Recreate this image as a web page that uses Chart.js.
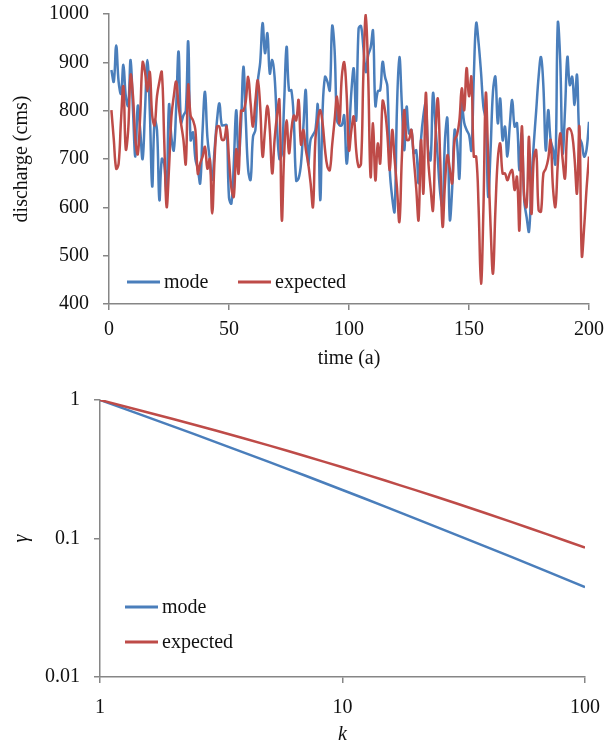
<!DOCTYPE html>
<html>
<head>
<meta charset="utf-8">
<script src="https://cdn.jsdelivr.net/npm/chart.js@4"></script>
<style>
  html, body { margin: 0; padding: 0; background: #fff; }
  .wrap { position: absolute; left: 0; width: 608px; height: 372px; }
  #top { top: 0; }
  #bottom { top: 372px; }
</style>
</head>
<body>
<div class="wrap" id="top"><canvas id="dischargeChart"></canvas></div>
<div class="wrap" id="bottom"><canvas id="gammaChart"></canvas></div>
<script>
// time steps 1..200
const times = Array.from({ length: 200 }, (_, i) => i + 1);

const modeDischarge = [
  884, 860, 935, 860, 835, 895, 830, 810, 905, 800,
  705, 810, 760, 700, 800, 905, 800, 643, 780, 760,
  615, 700, 690, 630, 812, 745, 718, 808, 922, 775,
  790, 800, 943, 739, 755, 700, 680, 650, 760, 839,
  745, 700, 657, 720, 780, 815, 770, 770, 770, 620,
  608, 690, 801, 705, 770, 891, 780, 677, 657, 746,
  760, 860, 900, 981, 919, 960, 877, 905, 870, 770,
  700, 710, 820, 932, 842, 842, 780, 655, 660, 690,
  767, 842, 690, 740, 750, 760, 812, 615, 800, 870,
  860, 842, 975, 925, 780, 770, 770, 790, 691, 750,
  840, 887, 780, 970, 975, 930, 880, 915, 930, 965,
  810, 840, 842, 901, 870, 850, 677, 620, 591, 808,
  911, 815, 718, 808, 753, 760, 712, 718, 650, 740,
  790, 815, 718, 698, 836, 770, 700, 630, 601, 740,
  784, 575, 640, 760, 735, 660, 815, 775, 760, 750,
  718, 870, 981, 940, 880, 808, 780, 622, 720, 840,
  870, 774, 825, 739, 767, 705, 770, 822, 767, 774,
  677, 753, 615, 580, 550, 650, 732, 800, 870, 911,
  850, 718, 801, 740, 720, 690, 981, 905, 712, 800,
  911, 853, 870, 812, 874, 746, 732, 705, 720, 777
];

const expectedDischarge = [
  801, 740, 680, 690, 780, 850, 720, 760, 874, 830,
  740, 710, 790, 900, 880, 840, 880, 790, 770, 830,
  860, 880, 740, 601, 680, 787, 830, 860, 810, 774,
  740, 690, 853, 790, 780, 760, 670, 691, 705, 725,
  680, 700, 587, 700, 767, 767, 740, 740, 767, 700,
  640, 622, 720, 670, 800, 800, 820, 870, 815, 767,
  820, 863, 808, 705, 760, 810, 760, 670, 740, 790,
  822, 574, 712, 780, 712, 760, 790, 780, 822, 730,
  760, 720, 691, 650, 601, 740, 780, 801, 774, 720,
  684, 677, 730, 780, 829, 774, 870, 900, 836, 718,
  760, 788, 718, 684, 690, 877, 998, 870, 663, 774,
  656, 732, 691, 820, 800, 750, 677, 760, 700, 640,
  570, 700, 801, 740, 740, 760, 700, 640, 574, 739,
  629, 836, 700, 640, 594, 740, 825, 700, 560, 650,
  708, 680, 650, 739, 750, 780, 846, 801, 888, 830,
  870, 705, 705, 600, 442, 594, 836, 700, 560, 463,
  594, 700, 732, 670, 670, 656, 670, 677, 636, 663,
  553, 767, 622, 601, 746, 587, 700, 718, 594, 591,
  670, 680, 700, 739, 640, 601, 690, 753, 700, 660,
  760, 763, 750, 700, 629, 767, 500, 560, 640, 705
];

const dischargeTicks = [400, 500, 600, 700, 800, 900, 1000];
const timeTicks = [0, 50, 100, 150, 200];

const lagK = [1, 2, 3, 5, 7, 10, 15, 20, 30, 50, 70, 100];
const modeGamma = [1, 0.645, 0.497, 0.356, 0.285, 0.224, 0.170, 0.139, 0.105, 0.0733, 0.0576, 0.0445];
const expectedGamma = [1, 0.730, 0.602, 0.468, 0.394, 0.327, 0.262, 0.2235, 0.1774, 0.1313, 0.107, 0.0859];
const gammaTicks = [0.01, 0.1, 1];
const gammaTickLabels = ['0.01', '0.1', '1'];
const kTicks = [1, 10, 100];

const blue = '#4a7ebb';
const red = '#be4b48';
const axisGray = '#868686';
const font = { family: '"Liberation Serif", "Times New Roman", serif', size: 20 };
const italicFont = { family: '"Liberation Serif", "Times New Roman", serif', size: 20, style: 'italic' };

const insideLegend = {
  id: 'insideLegend',
  afterDatasetsDraw(chart, args, opts) {
    const ctx = chart.ctx;
    ctx.save();
    ctx.font = '20px "Liberation Serif", serif';
    ctx.textBaseline = 'middle';
    chart.data.datasets.forEach((ds, i) => {
      const spot = opts.items[i];
      ctx.strokeStyle = ds.borderColor;
      ctx.lineWidth = 3;
      ctx.beginPath();
      ctx.moveTo(spot.x, spot.y);
      ctx.lineTo(spot.x + opts.lineLength, spot.y);
      ctx.stroke();
      ctx.fillStyle = '#111';
      ctx.fillText(ds.label, spot.x + opts.lineLength + opts.gap, spot.y + 1);
    });
    ctx.restore();
  }
};

function axisStyle(extra) {
  return Object.assign({
    grid: { drawOnChartArea: false, color: axisGray, tickLength: 6, lineWidth: 1.5 },
    border: { color: axisGray, width: 1.5 }
  }, extra);
}

// pin the axis box size so the plot area lands where the original one is
function pinX(height) {
  return s => { s.height = height; s.paddingLeft = 0; s.paddingRight = 0; };
}
function pinY(width) {
  return s => { s.width = width; s.paddingTop = 0; s.paddingBottom = 0; };
}

new Chart(document.getElementById('dischargeChart'), {
  type: 'line',
  data: {
    datasets: [
      {
        label: 'mode',
        data: times.map((t, i) => ({ x: t, y: modeDischarge[i] })),
        borderColor: blue,
        borderWidth: 2.5,
        pointRadius: 0,
        tension: 0.4,
        order: 2
      },
      {
        label: 'expected',
        data: times.map((t, i) => ({ x: t, y: expectedDischarge[i] })),
        borderColor: red,
        borderWidth: 2.5,
        pointRadius: 0,
        tension: 0.4,
        order: 1
      }
    ]
  },
  options: {
    responsive: true,
    maintainAspectRatio: false,
    animation: false,
    layout: { padding: { top: 14, right: 19, left: 0, bottom: 0 } },
    plugins: {
      legend: { display: false },
      tooltip: { enabled: false },
      insideLegend: {
        lineLength: 33, gap: 4,
        items: [{ x: 127, y: 282 }, { x: 238, y: 282 }]
      }
    },
    scales: {
      x: axisStyle({
        type: 'linear', min: 0, max: 200,
        afterBuildTicks: s => { s.ticks = timeTicks.map(v => ({ value: v })); },
        afterFit: pinX(68),
        ticks: { color: '#111', font, padding: 8, maxRotation: 0, callback: v => String(v) },
        title: { display: true, text: 'time (a)', color: '#111', font, padding: { top: 0, bottom: 1 } }
      }),
      y: axisStyle({
        min: 400, max: 1000,
        afterBuildTicks: s => { s.ticks = dischargeTicks.map(v => ({ value: v })); },
        afterFit: pinY(109),
        ticks: { color: '#111', font, padding: 14, callback: v => String(v) },
        title: { display: true, text: 'discharge (cms)', color: '#111', font, padding: { top: 10, bottom: 0 } }
      })
    }
  },
  plugins: [insideLegend]
});

new Chart(document.getElementById('gammaChart'), {
  type: 'line',
  data: {
    datasets: [
      {
        label: 'mode',
        data: lagK.map((k, i) => ({ x: k, y: modeGamma[i] })),
        borderColor: blue,
        borderWidth: 2.5,
        pointRadius: 0,
        tension: 0.2,
        order: 2
      },
      {
        label: 'expected',
        data: lagK.map((k, i) => ({ x: k, y: expectedGamma[i] })),
        borderColor: red,
        borderWidth: 2.5,
        pointRadius: 0,
        tension: 0.2,
        order: 1
      }
    ]
  },
  options: {
    responsive: true,
    maintainAspectRatio: false,
    animation: false,
    layout: { padding: { top: 28, right: 23, left: 0, bottom: 0 } },
    plugins: {
      legend: { display: false },
      tooltip: { enabled: false },
      insideLegend: {
        lineLength: 33, gap: 4,
        items: [{ x: 125, y: 235 }, { x: 125, y: 270 }]
      }
    },
    scales: {
      x: axisStyle({
        type: 'logarithmic', min: 1, max: 100,
        afterBuildTicks: s => { s.ticks = kTicks.map(v => ({ value: v })); },
        afterFit: pinX(67),
        ticks: { color: '#111', font, padding: 13, maxRotation: 0, callback: v => String(v) },
        title: { display: true, text: 'k', color: '#111', font: italicFont, padding: { top: 0, bottom: -3 } }
      }),
      y: axisStyle({
        type: 'logarithmic', min: 0.01, max: 1,
        afterBuildTicks: s => { s.ticks = gammaTicks.map(v => ({ value: v })); },
        afterFit: pinY(100),
        ticks: { color: '#111', font, padding: 14, callback: (v, i) => gammaTickLabels[i] },
        title: { display: true, text: 'γ', color: '#111', font: italicFont, padding: { top: 10, bottom: 0 } }
      })
    }
  },
  plugins: [insideLegend]
});
</script>
</body>
</html>
